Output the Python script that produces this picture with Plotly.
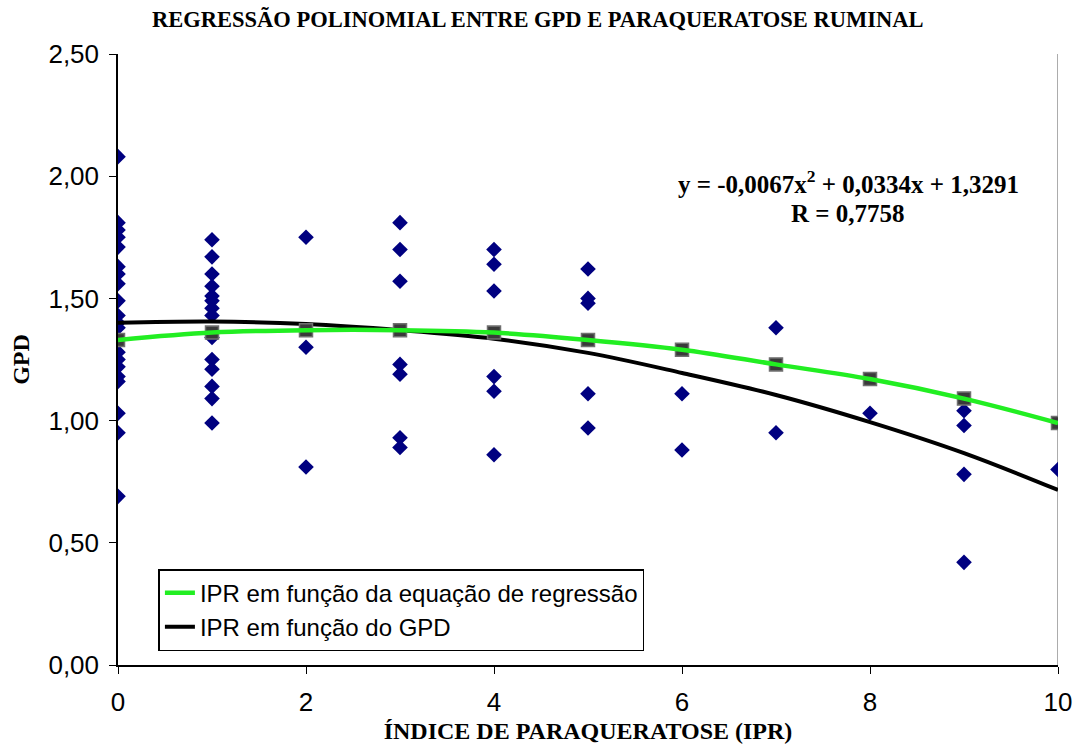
import plotly.graph_objects as go

# Observed GPD values for each paraqueratose index (IPR)
ipr_obs = (
    [0] * 20 + [1] * 14 + [2] * 3 + [3] * 7 + [4] * 6 + [5] * 5
    + [6] * 2 + [7] * 2 + [8] * 1 + [9] * 4 + [10] * 1
)
gpd_obs = [
    # IPR 0
    2.08, 1.81, 1.78, 1.75, 1.71, 1.63, 1.60, 1.56, 1.49, 1.43,
    1.40, 1.38, 1.28, 1.25, 1.22, 1.18, 1.16, 1.03, 0.95, 0.69,
    # IPR 1
    1.74, 1.67, 1.60, 1.55, 1.51, 1.49, 1.46, 1.43, 1.34, 1.25,
    1.21, 1.14, 1.09, 0.99,
    # IPR 2
    1.75, 1.30, 0.81,
    # IPR 3
    1.81, 1.70, 1.57, 1.23, 1.19, 0.93, 0.89,
    # IPR 4
    1.70, 1.64, 1.53, 1.18, 1.12, 0.86,
    # IPR 5
    1.62, 1.50, 1.48, 1.11, 0.97,
    # IPR 6
    1.11, 0.88,
    # IPR 7
    1.38, 0.95,
    # IPR 8
    1.03,
    # IPR 9
    1.04, 0.98, 0.78, 0.42,
    # IPR 10
    0.80,
]

# Regression curve values (y = -0,0067x² + 0,0334x + 1,3291)
ipr_line = [0, 1, 2, 3, 4, 5, 6, 7, 8, 9, 10]
gpd_regressao = [1.33, 1.36, 1.37, 1.37, 1.36, 1.33, 1.29, 1.23, 1.17, 1.09, 0.99]
# IPR as a function of GPD
gpd_funcao = [1.40, 1.405, 1.395, 1.37, 1.335, 1.277, 1.195, 1.105, 0.994, 0.867, 0.716]

y_ticks = [0, 0.5, 1.0, 1.5, 2.0, 2.5]
y_tick_labels = ["0,00", "0,50", "1,00", "1,50", "2,00", "2,50"]
x_ticks = [0, 2, 4, 6, 8, 10]

SERIF = "Liberation Serif"
SANS = "Liberation Sans"

fig = go.Figure()

fig.add_trace(go.Scatter(
    x=ipr_obs, y=gpd_obs, mode="markers", showlegend=False,
    marker=dict(symbol="diamond", size=12, color="#000080"),
))
fig.add_trace(go.Scatter(
    x=ipr_line, y=gpd_funcao, mode="lines", line_shape="spline",
    name="IPR em função do GPD", legendrank=2,
    line=dict(color="#000000", width=4),
))
fig.add_trace(go.Scatter(
    x=ipr_line, y=gpd_regressao, mode="markers", showlegend=False,
    marker=dict(symbol="square", size=13, color="#3a3a3a",
                line=dict(color="#707070", width=1.5)),
))
fig.add_trace(go.Scatter(
    x=ipr_line, y=gpd_regressao, mode="lines", line_shape="spline",
    name="IPR em função da equação de regressão", legendrank=1,
    line=dict(color="#22ee22", width=4.5),
))

# Right edge of the plot area
fig.add_shape(type="line", xref="x", yref="y", x0=10, x1=10, y0=0, y1=2.5,
              line=dict(color="#909090", width=1.5), layer="below")

fig.add_annotation(
    x=0.777, y=0.79, xref="paper", yref="paper", showarrow=False,
    xanchor="center", yanchor="middle",
    text="<b>y = -0,0067x<sup>2</sup> + 0,0334x + 1,3291</b>",
    font=dict(family=SERIF, size=25, color="#000"),
)
fig.add_annotation(
    x=0.777, y=0.739, xref="paper", yref="paper", showarrow=False,
    xanchor="center", yanchor="middle",
    text="<b>R = 0,7758</b>",
    font=dict(family=SERIF, size=25, color="#000"),
)

fig.update_layout(
    width=1082, height=753,
    margin=dict(l=118, r=24, t=54, b=88),
    paper_bgcolor="white", plot_bgcolor="white",
    title=dict(
        text="<b>REGRESSÃO POLINOMIAL ENTRE GPD E PARAQUERATOSE RUMINAL</b>",
        x=0.497, xanchor="center", y=0.975, yanchor="middle",
        font=dict(family=SERIF, size=22.5, color="#000"),
    ),
    xaxis=dict(
        range=[0, 10], tickvals=x_ticks, showgrid=False, zeroline=False,
        showline=True, linecolor="black", linewidth=1.5,
        ticks="outside", ticklen=7, tickcolor="black", automargin=False,
        ticklabelstandoff=6,
        tickfont=dict(family=SANS, size=26, color="#000"),
        title=dict(text="<b>ÍNDICE DE PARAQUERATOSE (IPR)</b>", standoff=6,
                   font=dict(family=SERIF, size=24, color="#000")),
    ),
    yaxis=dict(
        range=[0, 2.5], tickvals=y_ticks, ticktext=y_tick_labels,
        showgrid=False, zeroline=False,
        showline=True, linecolor="black", linewidth=1.5,
        ticks="outside", ticklen=7, tickcolor="black", automargin=False,
        ticklabelstandoff=5,
        tickfont=dict(family=SANS, size=26, color="#000"),
        title=dict(text="<b>GPD</b>", standoff=12,
                   font=dict(family=SERIF, size=24, color="#000")),
    ),
    legend=dict(
        x=0.043, y=0.157, xanchor="left", yanchor="top",
        bgcolor="white", bordercolor="black", borderwidth=1.5,
        font=dict(family=SANS, size=24, color="#000"),
        tracegroupgap=0, itemwidth=30,
    ),
)

fig.write_html("out.html")
